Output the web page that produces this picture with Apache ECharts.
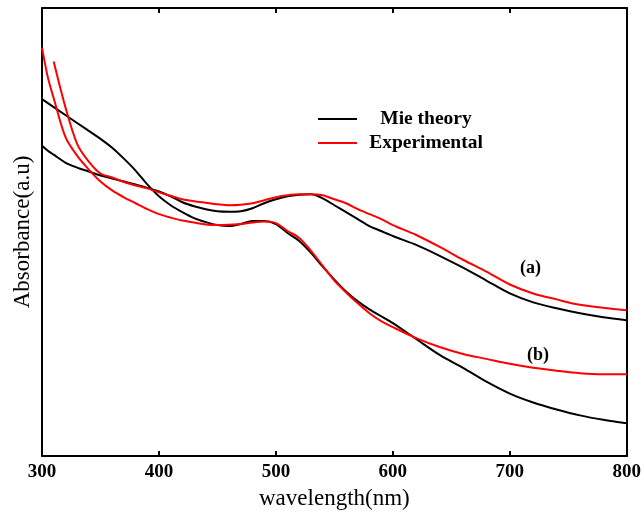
<!DOCTYPE html>
<html>
<head>
<meta charset="utf-8">
<script src="https://cdn.jsdelivr.net/npm/echarts@6/dist/echarts.min.js"></script>
<style>
html,body{margin:0;padding:0;background:#fff;}
#chart{width:644px;height:515px;}
</style>
</head>
<body>
<div id="chart"></div>
<script>
// Wavelength (nm) sample positions shared by all curves
var wavelength = [300,305,310,320,330,340,350,360,370,380,390,400,410,420,430,440,450,460,470,480,490,500,510,520,530,540,550,560,570,580,590,600,620,640,660,680,700,720,740,760,780,800];

// Absorbance (a.u.)
var mieA = [3.13,3.08,3.04,2.96,2.91,2.87,2.83,2.80,2.77,2.74,2.705,2.67,2.62,2.56,2.52,2.49,2.47,2.465,2.47,2.50,2.55,2.59,2.62,2.635,2.64,2.60,2.53,2.46,2.39,2.32,2.27,2.22,2.13,2.02,1.90,1.77,1.64,1.55,1.49,1.44,1.40,1.37];
var expA = [null,null,3.98,3.52,3.15,2.97,2.85,2.81,2.765,2.73,2.70,2.66,2.625,2.59,2.57,2.555,2.54,2.53,2.535,2.55,2.58,2.61,2.63,2.64,2.64,2.63,2.59,2.55,2.49,2.44,2.39,2.33,2.23,2.11,1.98,1.86,1.73,1.64,1.58,1.525,1.495,1.47];
var mieB = [3.60,3.56,3.52,3.44,3.36,3.28,3.20,3.11,3.00,2.88,2.74,2.62,2.53,2.46,2.40,2.36,2.33,2.32,2.34,2.37,2.37,2.34,2.25,2.17,2.05,1.91,1.78,1.66,1.56,1.48,1.41,1.34,1.18,1.02,0.89,0.75,0.63,0.54,0.47,0.41,0.365,0.33];
var expB = [4.12,3.82,3.61,3.22,3.03,2.89,2.77,2.68,2.61,2.55,2.49,2.44,2.405,2.375,2.355,2.335,2.33,2.333,2.34,2.355,2.365,2.35,2.27,2.20,2.07,1.92,1.77,1.65,1.54,1.44,1.36,1.30,1.19,1.10,1.03,0.98,0.93,0.89,0.86,0.835,0.825,0.825];

var xTicks = [300,400,500,600,700,800];
var legendNames = ['Mie theory','Experimental'];
var curveLabels = ['(a)','(b)'];

function pairs(vals){
  var out = [];
  for (var i = 0; i < wavelength.length; i++) {
    if (vals[i] !== null) out.push([wavelength[i], vals[i]]);
  }
  return out;
}

var serif = '"Liberation Serif","DejaVu Serif","Times New Roman",serif';
var chart = echarts.init(document.getElementById('chart'), null, {renderer:'canvas'});

function lineSeries(name, vals, color){
  return {
    name: name, type: 'line', data: pairs(vals), showSymbol: false, smooth: 0.3,
    xAxisIndex: 0, yAxisIndex: 0,
    lineStyle: {color: color, width: 2}, itemStyle: {color: color},
    emphasis: {disabled: true}, animation: false
  };
}

chart.setOption({
  animation: false,
  backgroundColor: '#ffffff',
  grid: {left: 42, right: 16, top: 8, bottom: 55, containLabel: false},
  legend: {
    data: [{name: legendNames[0], icon: 'rect'}, {name: legendNames[1], icon: 'rect'}],
    orient: 'vertical', left: 313, top: 104,
    itemWidth: 39, itemHeight: 2, itemGap: 4,
    formatter: function(n){ return '{t|' + n + '}'; },
    textStyle: {
      rich: {t: {width: 128, align: 'center', fontFamily: serif, fontWeight: 'bold', fontSize: 19.5, color: '#000', lineHeight: 19}}
    }
  },
  xAxis: [{
    type: 'value', min: xTicks[0], max: xTicks[xTicks.length-1], interval: 100, position: 'bottom',
    name: 'wavelength(nm)', nameLocation: 'middle', nameGap: 31,
    nameTextStyle: {fontFamily: serif, fontSize: 23, color: '#000'},
    axisLine: {show: true, onZero: false, lineStyle: {color: '#000', width: 2}},
    axisTick: {show: true, inside: true, length: 5, lineStyle: {color: '#000', width: 2}},
    axisLabel: {fontFamily: serif, fontSize: 19, fontWeight: 'bold', color: '#000', margin: 7},
    splitLine: {show: false}
  },{
    type: 'value', min: xTicks[0], max: xTicks[xTicks.length-1], interval: 100, position: 'top',
    axisLine: {show: true, onZero: false, lineStyle: {color: '#000', width: 2}},
    axisTick: {show: true, inside: true, length: 5, lineStyle: {color: '#000', width: 2}},
    axisLabel: {show: false}, splitLine: {show: false}
  }],
  yAxis: [{
    type: 'value', min: 0, max: 4.52, position: 'left',
    name: 'Absorbance(a.u)', nameLocation: 'middle', nameGap: 8, nameRotate: 90,
    nameTextStyle: {fontFamily: serif, fontSize: 23, color: '#000'},
    axisLine: {show: true, onZero: false, lineStyle: {color: '#000', width: 2}},
    axisTick: {show: false}, axisLabel: {show: false}, splitLine: {show: false}
  },{
    type: 'value', min: 0, max: 4.52, position: 'right',
    axisLine: {show: true, onZero: false, lineStyle: {color: '#000', width: 2}},
    axisTick: {show: false}, axisLabel: {show: false}, splitLine: {show: false}
  }],
  graphic: [
    {type: 'text', left: 520, top: 259, style: {text: curveLabels[0], font: 'bold 18px ' + serif, fill: '#000'}},
    {type: 'text', left: 527, top: 346, style: {text: curveLabels[1], font: 'bold 18px ' + serif, fill: '#000'}}
  ],
  series: [
    lineSeries(legendNames[0], mieA, '#000000'),
    lineSeries(legendNames[0], mieB, '#000000'),
    lineSeries(legendNames[1], expA, '#ff0000'),
    lineSeries(legendNames[1], expB, '#ff0000')
  ]
});
</script>
</body>
</html>
